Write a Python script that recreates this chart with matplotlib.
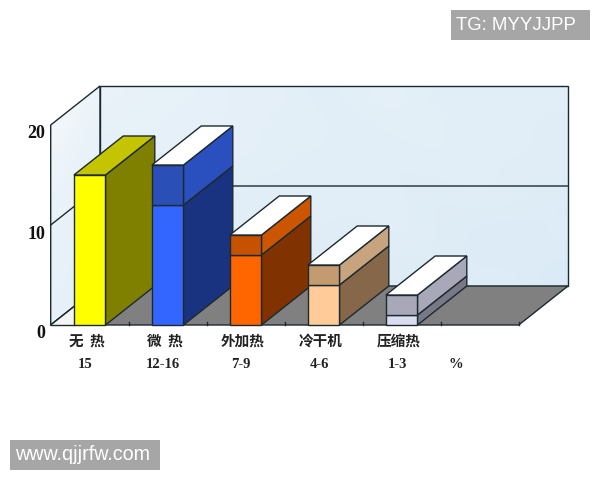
import matplotlib
matplotlib.use("Agg")
import matplotlib.pyplot as plt
from matplotlib.colors import LinearSegmentedColormap
from matplotlib.patches import Polygon

categories = ["无  热", "微  热", "外加热", "冷干机", "压缩热"]
range_labels = ["15", "12-16", "7-9", "4-6", "1-3", "%"]
low_values = [15, 12, 7, 4, 1]
high_values = [15, 16, 9, 6, 3]
y_ticks = [0, 10, 20]

front_low = ["#ffff00", "#3366ff", "#ff6600", "#ffcc99", "#dcdcf0"]
front_high = ["#ffff00", "#2a50b8", "#c65200", "#c49a70", "#a8a8b8"]
side_low = ["#808000", "#1a3380", "#803300", "#86674a", "#787886"]
side_high = ["#808000", "#2a50c0", "#cc5500", "#c8a47e", "#a8a8b8"]
top_color = ["#c4c400", "#ffffff", "#ffffff", "#ffffff", "#ffffff"]

# rough hand-picked tones for the mottled wall paper, 0 = pale, 1 = blue
back_tone = [
    [.35, .45, .40, .55, .50, .60, .55, .50, .60, .55, .65, .60],
    [.45, .40, .55, .45, .60, .50, .65, .55, .50, .65, .55, .70],
    [.50, .60, .45, .60, .50, .65, .50, .70, .60, .55, .70, .60],
    [.45, .55, .65, .50, .70, .55, .60, .55, .75, .65, .60, .80],
    [.60, .50, .60, .70, .55, .65, .75, .60, .65, .80, .90, .70],
    [.55, .65, .55, .60, .70, .60, .65, .75, .70, .75, .70, .85],
]
side_tone = [
    [.00, .10, .25],
    [.15, .30, .40],
    [.30, .40, .35],
    [.40, .35, .50],
    [.35, .50, .45],
    [.50, .45, .55],
]

dark = "#1c2a30"
wall_cmap = LinearSegmentedColormap.from_list("wall", ["#f4f8fb", "#d6e8f5"])

plt.rcParams['font.family'] = ['Noto Sans CJK SC', 'DejaVu Sans']

fig = plt.figure(figsize=(6, 4.8), dpi=100)
ax = fig.add_axes([0, 0, 1, 1])
# one category = 78 px, ten units = 100 px
x_lim = (-50.7 / 78, (600 - 50.7) / 78)
y_lim = (-15.5, 32.5)
ax.axis('off')

dx = 49.3 / 78
dy = 3.9
n_cat = len(range_labels)
y_top = 20


def poly(pts, fc, z=1, ec=dark, lw=1.0):
    p = Polygon(pts, closed=True, facecolor=fc, edgecolor=ec, linewidth=lw, zorder=z)
    ax.add_patch(p)
    return p


def paper(tone, pts):
    xs = [q[0] for q in pts]
    ys = [q[1] for q in pts]
    im = ax.imshow(tone, extent=(min(xs), max(xs), min(ys), max(ys)), aspect='auto', cmap=wall_cmap,
                   vmin=0, vmax=1, interpolation='bicubic', zorder=1)
    im.set_clip_path(Polygon(pts, closed=True, transform=ax.transData))


# walls and floor
left_wall = [(0, 0), (dx, dy), (dx, y_top + dy), (0, y_top)]
back_wall = [(dx, dy), (n_cat + dx, dy), (n_cat + dx, y_top + dy), (dx, y_top + dy)]
paper(side_tone, left_wall)
paper(back_tone, back_wall)
poly(left_wall, "none", 2)
poly(back_wall, "none", 2)
poly([(0, 0), (n_cat, 0), (n_cat + dx, dy), (dx, dy)], "#808080", 2)
for v in y_ticks[1:-1]:
    ax.plot([0, dx, n_cat + dx], [v, v + dy, v + dy], color=dark, lw=1.0, zorder=3)

# ticks on front edge of floor
for i in range(1, n_cat + 1):
    ax.plot([i, i], [0, 0.35], color=dark, lw=1.0, zorder=3)

# boxes
bar_w = 0.405
# floor shows white left of the first box
first_x = 0.5 - bar_w / 2
poly([(0, 0), (first_x, 0), (first_x, first_x / dx * dy)], "#f4f6f6", 4, ec='none', lw=0)
ax.plot([0, first_x], [0, first_x / dx * dy], color=dark, lw=1.0, zorder=5)
ax.plot([0, first_x], [0, 0], color=dark, lw=1.0, zorder=5)

for i in range(len(categories)):
    x0 = i + 0.5 - bar_w / 2
    x1 = x0 + bar_w
    lo = low_values[i]
    hi = high_values[i]
    z = 10 + i
    poly([(x1, 0), (x1 + dx, dy), (x1 + dx, lo + dy), (x1, lo)], side_low[i], z)
    poly([(x0, 0), (x1, 0), (x1, lo), (x0, lo)], front_low[i], z)
    if hi > lo:
        poly([(x1, lo), (x1 + dx, lo + dy), (x1 + dx, hi + dy), (x1, hi)], side_high[i], z)
        poly([(x0, lo), (x1, lo), (x1, hi), (x0, hi)], front_high[i], z)
    poly([(x0, hi), (x1, hi), (x1 + dx, hi + dy), (x0 + dx, hi + dy)], top_color[i], z)

ax.set_xlim(*x_lim)
ax.set_ylim(*y_lim)

# labels
for v in y_ticks:
    ax.text(-0.073, v - 0.9, str(v), ha='right', va='center', fontsize=13,
            fontweight='bold', family=['Liberation Serif', 'DejaVu Serif'], color="#111111")
for i, name in enumerate(categories):
    ax.text(i + 0.46, -1.6, name, ha='center', va='center', fontsize=10.5, fontweight='bold',
            family=['Noto Sans CJK SC', 'DejaVu Sans'], color="#222222")
for i, name in enumerate(range_labels):
    ax.text(i + 0.44 if i < 5 else 5.2, -4.0, name, ha='center', va='center', fontsize=10.5,
            fontweight='bold', family=['Liberation Serif', 'DejaVu Serif'], color="#222222")

# watermarks
tr = fig.transFigure
fig.patches.append(plt.Rectangle((451 / 600, 1 - 40 / 480), 139 / 600, 30 / 480, transform=tr,
                                 facecolor="#a6a6a6", edgecolor='none', figure=fig))
fig.patches.append(plt.Rectangle((10 / 600, 1 - 470 / 480), 150 / 600, 30 / 480, transform=tr,
                                 facecolor="#a6a6a6", edgecolor='none', figure=fig))
fig.text(456 / 600, 1 - 25 / 480, "TG: MYYJJPP", color="white", fontsize=13.4, va='center',
         family=['Liberation Sans', 'DejaVu Sans'])
fig.text(15 / 600, 1 - 455 / 480, "www.qjjrfw.com", color="white", fontsize=14.2, va='center',
         family=['Liberation Sans', 'DejaVu Sans'])

fig.savefig("out.png", dpi=100)
